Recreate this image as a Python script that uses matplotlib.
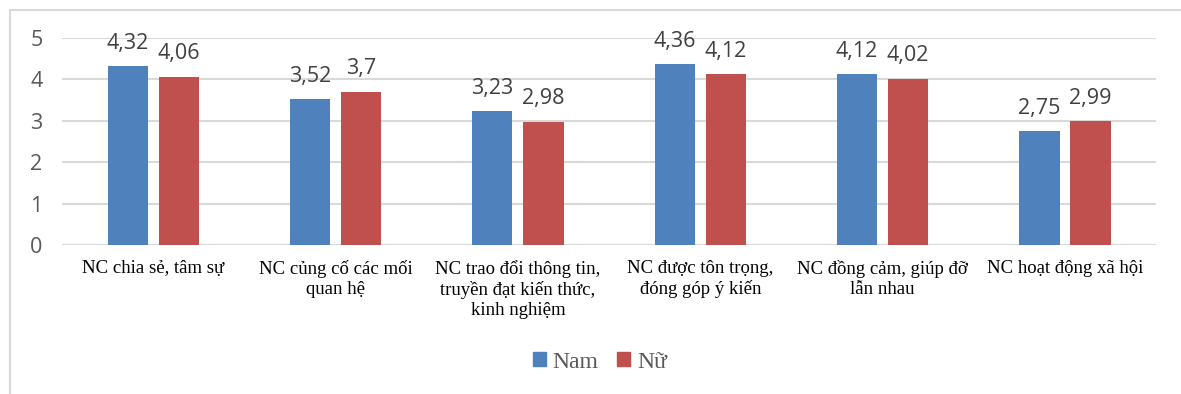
import matplotlib
matplotlib.use("Agg")
import matplotlib.pyplot as plt
import numpy as np
from matplotlib.patches import Rectangle
from matplotlib.lines import Line2D

categories = ["NC chia sẻ, tâm sự", "NC củng cố các mối\nquan hệ",
              "NC trao đổi thông tin,\ntruyền đạt kiến thức,\nkinh nghiệm",
              "NC được tôn trọng,\nđóng góp ý kiến", "NC đồng cảm, giúp đỡ\nlẫn nhau",
              "NC hoạt động xã hội"]
nam = [4.32, 3.52, 3.23, 4.36, 4.12, 2.75]
nu = [4.06, 3.70, 2.98, 4.12, 4.02, 2.99]
nam_labels = ["4,32", "3,52", "3,23", "4,36", "4,12", "2,75"]
nu_labels = ["4,06", "3,7", "2,98", "4,12", "4,02", "2,99"]
series_names = ["Nam", "Nữ"]
yticks = [0, 1, 2, 3, 4, 5]

blue = "#4F81BD"
red = "#C0504D"
gray = "#595959"

fig = plt.figure(figsize=(11.81, 3.94), dpi=100)
ax = fig.add_axes([0.0525, 0.378, 0.9265, 0.5256])

x = np.arange(len(categories))
w = 0.22
off = 0.14
b1 = ax.bar(x - off, nam, w, color=blue, zorder=3)
b2 = ax.bar(x + off, nu, w, color=red, zorder=3)

for rects, labs in ((b1, nam_labels), (b2, nu_labels)):
    for r, lab in zip(rects, labs):
        ax.annotate(lab, (r.get_x() + r.get_width() / 2, r.get_height()),
                    xytext=(0, 9), textcoords="offset points", ha="center", va="bottom",
                    fontsize=15.5, color="#404040", family="Open Sans")

ax.set_xlim(-0.5, len(categories) - 0.5)
ax.set_ylim(0, 5)
ax.set_yticks(yticks)
ax.set_yticklabels([str(t) for t in yticks], fontsize=15.5, color=gray, family="Open Sans")
ax.yaxis.grid(True, color="#D9D9D9", linewidth=1.5, zorder=0)
ax.set_axisbelow(True)
ax.tick_params(axis="y", length=0, pad=14)
ax.tick_params(axis="x", length=0, pad=11)
ax.set_xticks(x)
ax.set_xticklabels(categories, fontsize=13.5, family="Liberation Serif", color="black",
                   linespacing=1.2, va="top")
for s in ax.spines.values():
    s.set_visible(False)
ax.axhline(0, color="#D9D9D9", linewidth=1.5, zorder=2)

# frame (top and left visible)
fig.add_artist(Line2D([10 / 1181, 1.0], [1 - 10 / 394, 1 - 10 / 394], color="#D9D9D9",
                      linewidth=1.5, transform=fig.transFigure))
fig.add_artist(Line2D([10 / 1181, 10 / 1181], [0, 1 - 10 / 394], color="#D9D9D9",
                      linewidth=1.5, transform=fig.transFigure))

handles = [Rectangle((0, 0), 1, 1, color=blue), Rectangle((0, 0), 1, 1, color=red)]
leg = fig.legend(handles, series_names, loc="center", bbox_to_anchor=(0.508, 1 - 362 / 394),
                 ncol=2, frameon=False, prop={"family": "Liberation Serif", "size": 17},
                 handlelength=0.55, handleheight=0.55, handletextpad=0.3, columnspacing=0.8)
for t in leg.get_texts():
    t.set_color(gray)

fig.savefig("out.png", dpi=100)
